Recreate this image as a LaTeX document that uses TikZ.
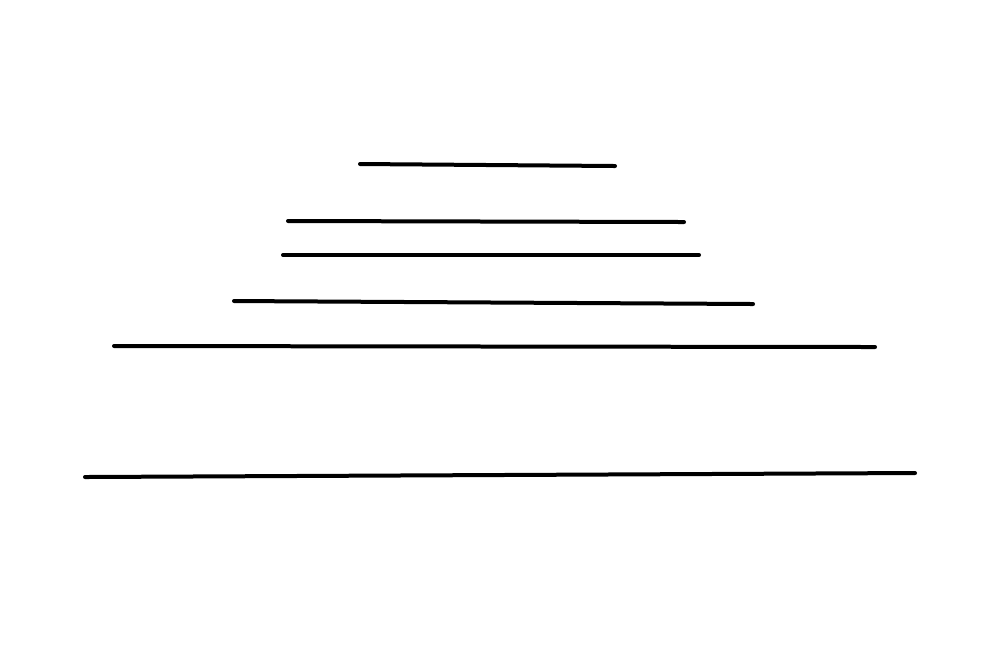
\documentclass[tikz,border=0pt]{standalone}
\usepackage{tikz}

\begin{document}
\begin{tikzpicture}[
				x=1cm,
				y=1cm,
				bar/.style={
					draw=black,
					line width=0.04cm,
					line cap=round
				}
			]
			% Frame
			\useasboundingbox (0,0) rectangle (10,6.51);
			        
			% Lines, top to bottom
			\draw[bar] (3.60,4.87) -- (6.15,4.85);
			\draw[bar] (2.88,4.30) -- (6.84,4.29);
			\draw[bar] (2.83,3.96) -- (6.99,3.96);
			\draw[bar] (2.34,3.50) -- (7.53,3.47);
			\draw[bar] (1.14,3.05) -- (8.75,3.04);
			\draw[bar] (0.85,1.74) -- (9.15,1.78);
		\end{tikzpicture}
\end{document}
